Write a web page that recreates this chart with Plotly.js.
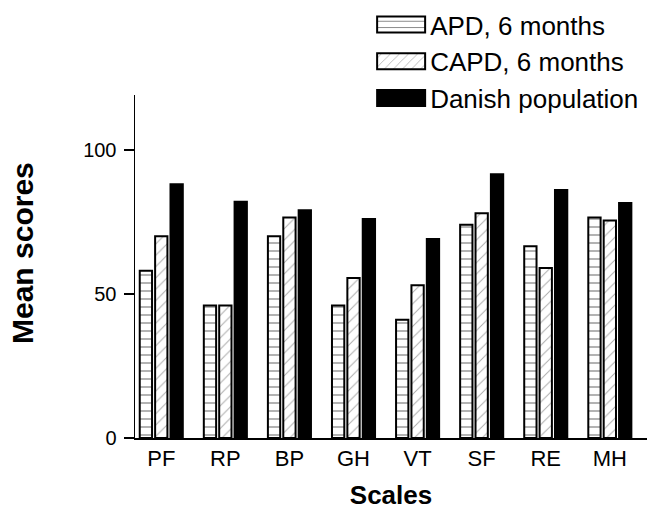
<!DOCTYPE html>
<html>
<head>
<meta charset="utf-8">
<script src="https://cdn.plot.ly/plotly-3.0.1.min.js"></script>
<style>html,body{margin:0;padding:0;background:#fff}#chart{width:654px;height:510px}</style>
</head>
<body>
<div id="chart"></div>
<script>
const categories = ['PF', 'RP', 'BP', 'GH', 'VT', 'SF', 'RE', 'MH'];
const seriesNames = ['APD, 6 months', 'CAPD, 6 months', 'Danish population'];
const apd = [58, 46, 70, 46, 41, 74, 66.5, 76.5];
const capd = [70, 46, 76.5, 55.5, 53, 78, 59, 75.5];
const danish = [88, 82, 79, 76, 69, 91.5, 86, 81.5];
const yTicks = [0, 50, 100];

const FONT = 'Liberation Sans, Arial, Helvetica, sans-serif';

const traces = [
  {
    type: 'bar', name: seriesNames[0], x: categories, y: apd,
    marker: {
      color: '#ffffff',
      line: {color: '#000000', width: 2},
      pattern: {shape: '-', fgcolor: '#000000', bgcolor: '#ffffff', size: 8, solidity: 0.15, fillmode: 'overlay'}
    }
  },
  {
    type: 'bar', name: seriesNames[1], x: categories, y: capd,
    marker: {
      color: '#ffffff',
      line: {color: '#000000', width: 2},
      pattern: {shape: '/', fgcolor: '#555555', bgcolor: '#ffffff', size: 8, solidity: 0.12, fillmode: 'overlay'}
    }
  },
  {
    type: 'bar', name: seriesNames[2], x: categories, y: danish,
    marker: {color: '#000000', line: {color: '#000000', width: 2}}
  }
];

const layout = {
  width: 654, height: 510,
  margin: {l: 135, r: 7, t: 95, b: 72, autoexpand: false},
  paper_bgcolor: '#ffffff', plot_bgcolor: '#ffffff',
  font: {family: FONT, color: '#000000'},
  barmode: 'group', bargap: 0.28, bargroupgap: 0.2,
  showlegend: true,
  legend: {
    xref: 'container', yref: 'container',
    x: 0.569, xanchor: 'left', y: 0.998, yanchor: 'top',
    font: {family: FONT, size: 26, color: '#000000'},
    bgcolor: 'rgba(0,0,0,0)', itemwidth: 48, tracegroupgap: 0
  },
  xaxis: {
    type: 'category', range: [-0.41, 7.58],
    showline: true, linecolor: '#000000', linewidth: 2,
    ticks: '', showgrid: false, zeroline: false,
    tickfont: {family: FONT, size: 22, color: '#000000'},
    title: {text: 'Scales', font: {family: FONT, size: 26, color: '#000000', weight: 'bold'}, standoff: 17}
  },
  yaxis: {
    range: [0, 119], tickvals: yTicks, ticktext: yTicks.map(String),
    showline: true, linecolor: '#000000', linewidth: 1.5,
    ticks: 'outside', ticklen: 10, tickwidth: 1.5, tickcolor: '#000000',
    ticklabelstandoff: 3,
    showgrid: false, zeroline: false,
    tickfont: {family: FONT, size: 20, color: '#000000'}
  },
  annotations: [{
    text: '<b>Mean scores</b>', textangle: -90, showarrow: false,
    xref: 'paper', yref: 'paper', x: (22 - 135) / 512, y: (438 - 253) / 343,
    xanchor: 'center', yanchor: 'middle',
    font: {family: FONT, size: 30, color: '#000000'}
  }]
};

Plotly.newPlot('chart', traces, layout, {displayModeBar: false, staticPlot: true}).then(function (gd) {
  // widen legend swatches to the wide rectangles of the original
  gd.querySelectorAll('.legend .legendpoints path').forEach(function (p) {
    p.setAttribute('d', 'M24,8H-24V-8H24Z');
  });
});
</script>
</body>
</html>
